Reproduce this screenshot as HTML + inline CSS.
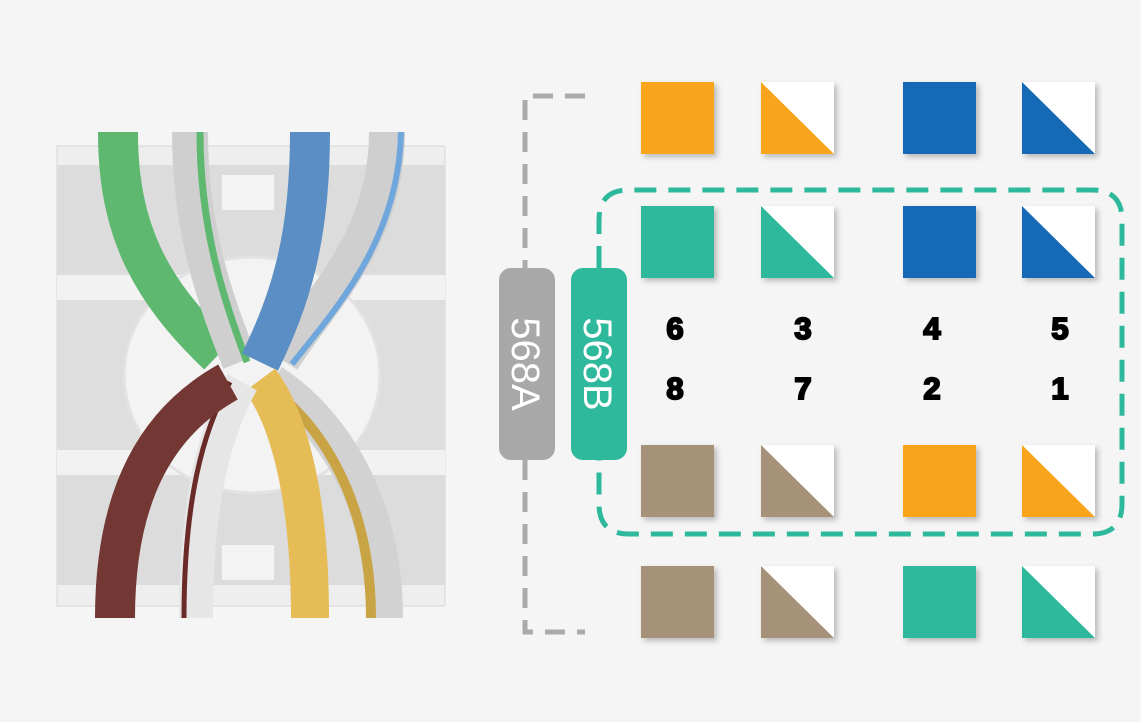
<!DOCTYPE html>
<html><head><style>
html,body{margin:0;padding:0;background:#f5f5f5;width:1141px;height:722px;overflow:hidden}
svg{display:block}
text{font-family:"Liberation Sans",sans-serif}
</style></head><body>
<svg width="1141" height="722" viewBox="0 0 1141 722" xmlns="http://www.w3.org/2000/svg">
<defs>
<filter id="sh" x="-20%" y="-20%" width="150%" height="150%"><feDropShadow dx="3" dy="3" stdDeviation="3" flood-color="#000" flood-opacity="0.25"/></filter>
</defs>
<rect width="1141" height="722" fill="#f5f5f5"/>
<!-- jack body -->
<g>
<rect x="57" y="146" width="388" height="460" fill="#eeeeee" stroke="#d8d8d8"/>
<rect x="57" y="165" width="388" height="110" fill="#dcdcdc"/>
<rect x="57" y="300" width="388" height="150" fill="#dedede"/>
<rect x="57" y="475" width="388" height="110" fill="#dcdcdc"/>
<rect x="57" y="275" width="388" height="25" fill="#f2f2f2"/>
<rect x="57" y="450" width="388" height="25" fill="#f2f2f2"/>
<ellipse cx="252" cy="375" rx="128" ry="118" fill="#f3f3f3" stroke="#e2e2e2" stroke-width="3"/>
<rect x="222" y="175" width="52" height="35" fill="#f3f3f3"/>
<rect x="222" y="545" width="52" height="35" fill="#f3f3f3"/>
</g>
<!-- cables top -->
<g fill="none" stroke-linecap="butt">
<path d="M118 132 C118 230 150 290 218 355" stroke="#5fb86f" stroke-width="40"/>
<path d="M190 132 C190 230 215 300 240 362" stroke="#cfcfcf" stroke-width="36"/>
<path d="M200 132 C200 230 224 300 247 362" stroke="#5fb86f" stroke-width="7"/>
<path d="M387 132 C387 240 320 300 282 360" stroke="#cfcfcf" stroke-width="36"/>
<path d="M401 132 C399 240 335 310 292 364" stroke="#6fa6dc" stroke-width="6"/>
<path d="M310 132 C310 240 290 300 260 362" stroke="#5b8ec4" stroke-width="40"/>
<!-- bottom -->
<path d="M385 618 C385 500 330 420 272 382" stroke="#d2d2d2" stroke-width="36"/>
<path d="M371 618 C371 500 320 420 262 382" stroke="#c9a445" stroke-width="10"/>
<path d="M310 618 C310 500 290 420 260 380" stroke="#e5bc55" stroke-width="38"/>
<path d="M196 618 C196 500 215 430 242 382" stroke="#e6e6e6" stroke-width="34"/>
<path d="M184 618 C184 500 203 430 230 382" stroke="#6a2a28" stroke-width="5"/>
<path d="M115 618 C115 490 160 420 228 382" stroke="#733834" stroke-width="40"/>
</g>
<!-- gray bracket -->
<g stroke="#aaaaaa" stroke-width="5" fill="none" stroke-dasharray="20 12">
<path d="M585 96 H525 V268"/>
<path d="M525 460 V632 H585"/>
</g>
<!-- teal dashed rect -->
<path d="M599 268 V220 Q599 190 629 190 H1092 Q1122 190 1122 220 V504 Q1122 534 1092 534 H629 Q599 534 599 504 V460" fill="none" stroke="#2fb99c" stroke-width="5" stroke-dasharray="22 12"/>
<!-- pills -->
<rect x="499" y="268" width="56" height="192" rx="12" fill="#a8a8a8"/>
<rect x="571" y="268" width="56" height="192" rx="12" fill="#2fb99c"/>
<text transform="translate(512,364) rotate(90)" text-anchor="middle" font-size="40" fill="#fff">568A</text>
<text transform="translate(584,364) rotate(90)" text-anchor="middle" font-size="40" fill="#fff">568B</text>
<!-- squares -->
<g filter="url(#sh)">
<rect x="641" y="82" width="73" height="72" fill="#f8a51c"/>
<rect x="761" y="82" width="73" height="72" fill="#fff"/><path d="M761 82 L834 154 H761Z" fill="#f8a51c"/>
<rect x="903" y="82" width="73" height="72" fill="#1769b4"/>
<rect x="1022" y="82" width="73" height="72" fill="#fff"/><path d="M1022 82 L1095 154 H1022Z" fill="#1769b4"/>

<rect x="641" y="206" width="73" height="72" fill="#2fb99c"/>
<rect x="761" y="206" width="73" height="72" fill="#fff"/><path d="M761 206 L834 278 H761Z" fill="#2fb99c"/>
<rect x="903" y="206" width="73" height="72" fill="#1769b4"/>
<rect x="1022" y="206" width="73" height="72" fill="#fff"/><path d="M1022 206 L1095 278 H1022Z" fill="#1769b4"/>

<rect x="641" y="445" width="73" height="72" fill="#a69179"/>
<rect x="761" y="445" width="73" height="72" fill="#fff"/><path d="M761 445 L834 517 H761Z" fill="#a69179"/>
<rect x="903" y="445" width="73" height="72" fill="#f8a51c"/>
<rect x="1022" y="445" width="73" height="72" fill="#fff"/><path d="M1022 445 L1095 517 H1022Z" fill="#f8a51c"/>

<rect x="641" y="566" width="73" height="72" fill="#a69179"/>
<rect x="761" y="566" width="73" height="72" fill="#fff"/><path d="M761 566 L834 638 H761Z" fill="#a69179"/>
<rect x="903" y="566" width="73" height="72" fill="#2fb99c"/>
<rect x="1022" y="566" width="73" height="72" fill="#fff"/><path d="M1022 566 L1095 638 H1022Z" fill="#2fb99c"/>
</g>
<g font-size="31" font-weight="900" fill="#000" text-anchor="middle" stroke="#000" stroke-width="2">
<text x="675" y="339">6</text><text x="803" y="339">3</text><text x="932" y="339">4</text><text x="1060" y="339">5</text>
<text x="675" y="399">8</text><text x="803" y="399">7</text><text x="932" y="399">2</text><text x="1060" y="399">1</text>
</g>
</svg>
</body></html>
